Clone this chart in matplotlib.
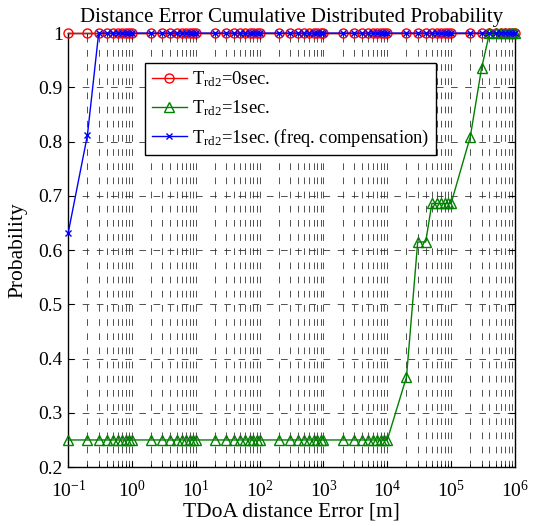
import matplotlib
matplotlib.use("Agg")
import matplotlib.pyplot as plt
import numpy as np
from matplotlib.ticker import LogLocator, FixedLocator, NullFormatter, FuncFormatter

plt.rcParams['font.family'] = ['Liberation Serif', 'DejaVu Serif']
plt.rcParams['mathtext.fontset'] = 'custom'
plt.rcParams['mathtext.rm'] = 'Liberation Serif'
plt.rcParams['mathtext.it'] = 'Liberation Serif:italic'
plt.rcParams['mathtext.bf'] = 'Liberation Serif:bold'

# x values: 1..9 x 10^k for k=-1..5, plus 10^6
mantissas = [1, 2, 3, 4, 5, 6, 7, 8, 9]
exponents = [-1, 0, 1, 2, 3, 4, 5]
x_err = [m * 10.0 ** e for e in exponents for m in mantissas] + [1e6]

# T_rd2 = 0 sec: all 1
y_trd0 = [1.0] * 64

# T_rd2 = 1 sec
y_trd1 = ([0.25] * 46  # 0.1 .. 1e4
          + [0.366, 0.615, 0.615, 0.686, 0.686, 0.686, 0.686, 0.686, 0.686,  # 2e4 .. 1e5
             0.809, 0.935, 1.0, 1.0, 1.0, 1.0, 1.0, 1.0, 1.0])             # 2e5 .. 1e6

# T_rd2 = 1 sec (freq. compensation)
y_comp = [0.632, 0.812] + [1.0] * 62

labels = [r'T$_{\rm rd2}$=0sec.', r'T$_{\rm rd2}$=1sec.',
          r'T$_{\rm rd2}$=1sec. (freq. compensation)']
xticks = [1e-1, 1e0, 1e1, 1e2, 1e3, 1e4, 1e5, 1e6]
xtick_labels = [r'$10^{-1}$', r'$10^{0}$', r'$10^{1}$', r'$10^{2}$',
                r'$10^{3}$', r'$10^{4}$', r'$10^{5}$', r'$10^{6}$']
yticks = [0.2, 0.3, 0.4, 0.5, 0.6, 0.7, 0.8, 0.9, 1.0]
ytick_labels = ['0.2', '0.3', '0.4', '0.5', '0.6', '0.7', '0.8', '0.9', '1']

fig = plt.figure(figsize=(5.33, 5.26), dpi=100)
ax = fig.add_axes([0.128, 0.112, 0.838, 0.825])

ax.plot(x_err, y_trd0, color='red', marker='o', markersize=6.5, markerfacecolor='none',
        markeredgewidth=1.0, linewidth=1.0, label=labels[0], clip_on=False, zorder=3)
ax.plot(x_err, y_trd1, color='green', marker='^', markersize=6.5, markerfacecolor='none',
        markeredgewidth=1.0, linewidth=1.0, label=labels[1], clip_on=False, zorder=4)
ax.plot(x_err, y_comp, color='blue', marker='x', markersize=5, markeredgewidth=1.0,
        linewidth=1.0, label=labels[2], clip_on=False, zorder=5)

ax.set_xscale('log')
ax.set_xlim(1e-1, 1e6)
ax.set_ylim(0.2, 1.0)
ax.xaxis.set_major_locator(FixedLocator(xticks))
ax.set_xticklabels(xtick_labels)
ax.xaxis.set_minor_locator(LogLocator(base=10, subs=np.arange(2, 10), numticks=20))
ax.xaxis.set_minor_formatter(NullFormatter())
ax.yaxis.set_major_locator(FixedLocator(yticks))
ax.set_yticklabels(ytick_labels)

ax.tick_params(axis='both', which='both', direction='in', labelsize=14, top=True, right=True)
ax.tick_params(axis='both', which='major', length=4)
ax.tick_params(axis='x', which='minor', length=2.5)
ax.tick_params(axis='x', which='major', pad=9)
ax.tick_params(axis='y', which='major', pad=4)

gridkw = dict(color='#333333', linewidth=0.6, linestyle=(0, (8, 9)))
ax.grid(True, which='major', axis='both', **gridkw)
ax.grid(True, which='minor', axis='x', **gridkw)
ax.set_axisbelow(True)

for s in ax.spines.values():
    s.set_linewidth(1.0)

ax.set_title('Distance Error Cumulative Distributed Probability', fontsize=15, pad=8)
ax.set_xlabel('TDoA distance Error [m]', fontsize=15.5, labelpad=1)
ax.set_ylabel('Probability', fontsize=15.5, labelpad=8)

leg = ax.legend(loc='upper left', bbox_to_anchor=(0.172, 0.931), fontsize=13.3,
                fancybox=False, framealpha=1, edgecolor='black', borderpad=0.35,
                handlelength=1.9, handletextpad=0.3, labelspacing=0.5, borderaxespad=0)
leg.get_frame().set_linewidth(1.0)

fig.savefig('out.png', dpi=100)
